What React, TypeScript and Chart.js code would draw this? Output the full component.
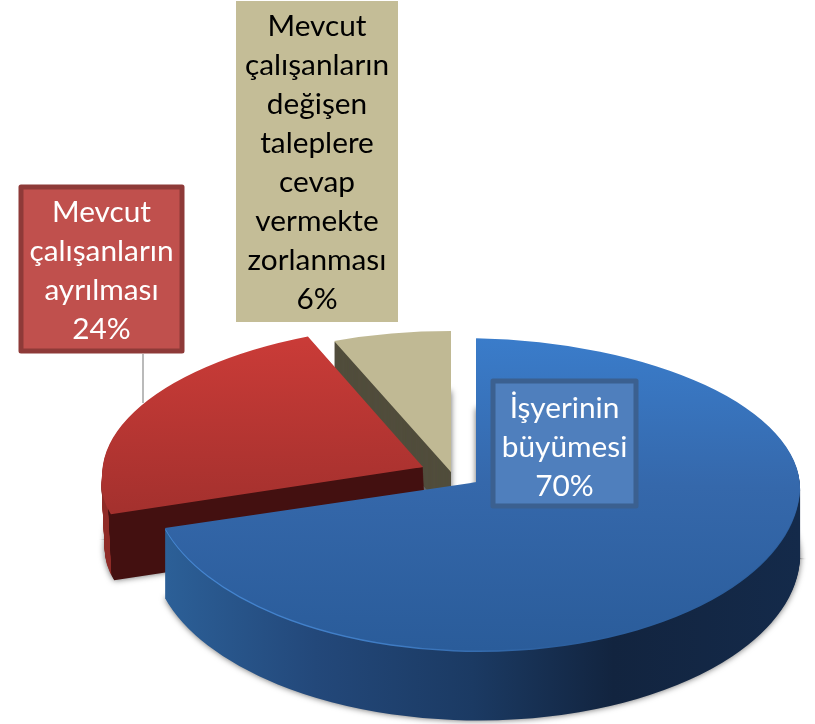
import React, { useEffect, useRef } from "react";
import { Chart, registerables } from "chart.js";

Chart.register(...registerables);

// --- data ---
const categories = ["İşyerinin büyümesi", "Mevcut çalışanların ayrılması", "Mevcut çalışanların değişen taleplere cevap vermekte zorlanması"];
const shares = [70, 24, 6];
const labelLines = [
  ["İşyerinin", "büyümesi"],
  ["Mevcut", "çalışanların", "ayrılması"],
  ["Mevcut", "çalışanların", "değişen", "taleplere", "cevap", "vermekte", "zorlanması"],
];

// --- styling of the tilted pie ---
const sliceColors = ["#3568ab", "#b5332f", "#c0b994"];
const explode = [31, 31, 0];
const lift = [0, -1, -2];
const squashUpper = [0.444, 0.441, 0.435];
const squashLower = [0.519, 0.41, 0.435];
const shear = [0.02, -0.02, 0];
const stretchX = [1, 0.99, 0.98];
const skewUpper = [0, -0.01, 0];
const skewLower = [-0.03, -0.07, 0];
const depth = [70, 66, 45];
const wallLean = [0, 0.05, 0];
const shadowDepth = [70, 66, 60];
const pieRadius = 324;
const baseSquash = 0.45;
const topStops = [
  ["#3a7cca", "#3568ab", "#2a5c9a"],
  ["#cc3c38", "#ad3330", "#8f2b28"],
  ["#c0b994", "#c0b994", "#c0b994"],
];
const labelBoxes = [
  { x: 493, y: 381, w: 143, h: 125, fill: "#4f7fbd", border: "#3b6090", border_w: 5, color: "#ffffff", first: 408 },
  { x: 21, y: 187, w: 161, h: 164, fill: "#c0504d", border: "#8e3a38", border_w: 5, color: "#ffffff", first: 212 },
  { x: 236, y: 1, w: 162, h: 321, fill: "#c4bd97", border: null, border_w: 0, color: "#000000", first: 26 },
];
const labelFont = "29.8px Lato";
const lineGap = 39;

const tiltedPie = {
  id: "tiltedPie",
  beforeDatasetsDraw(chart: any) {
    const ctx: CanvasRenderingContext2D = chart.ctx;
    const arcs = chart.getDatasetMeta(0).data;

    const place = (arc: any, i: number) => {
      const mid = (arc.startAngle + arc.endAngle) / 2;
      const ax = Math.cos(mid) * explode[i];
      const ay = Math.sin(mid) * explode[i];
      return { x: arc.x + ax, y: arc.y + ay * baseSquash + lift[i] };
    };

    const paint = (arc: any, i: number, fill: any, dy: number, shiftX = 0) => {
      const b = place(arc, i);
      const k = shear[i];
      const copy = Object.create(arc);
      copy.options = { ...arc.options, backgroundColor: fill, borderWidth: 0 };
      const W = chart.width;
      const lineY = (x: number) => b.y + dy + k * (x - b.x);
      [squashUpper[i], squashLower[i]].forEach((sq, half) => {
        ctx.save();
        ctx.beginPath();
        const e = half === 0 ? 0.6 : -0.6;
        const far = half === 0 ? -2000 : 3000;
        ctx.moveTo(0, lineY(0) + e);
        ctx.lineTo(W, lineY(W) + e);
        ctx.lineTo(W, far);
        ctx.lineTo(0, far);
        ctx.closePath();
        ctx.clip();
        ctx.translate(b.x + shiftX + dy * wallLean[i], b.y + dy);
        ctx.transform(stretchX[i], k, half === 0 ? skewUpper[i] : skewLower[i], sq, 0, 0);
        ctx.translate(-arc.x, -arc.y);
        copy.draw(ctx);
        ctx.restore();
      });
    };

    const wallFill = (i: number, tx: number) => {
      if (i === 0) {
        const g = ctx.createLinearGradient(165 - tx, 0, 800 - tx, 0);
        g.addColorStop(0, "#2c6098");
        g.addColorStop(0.25, "#23487a");
        g.addColorStop(0.5, "#1b3a63");
        g.addColorStop(0.72, "#12243f");
        g.addColorStop(1, "#142a4a");
        return g;
      }
      if (i === 1) {
        const g = ctx.createLinearGradient(103 - tx, 0, 423 - tx, 0);
        g.addColorStop(0, "#8f2b27");
        g.addColorStop(0.025, "#8f2b27");
        g.addColorStop(0.026, "#431010");
        g.addColorStop(1, "#431010");
        return g;
      }
      return "#514d3c";
    };

    [2, 1, 0].forEach((i) => {
      const arc = arcs[i];
      const b = place(arc, i);
      const tx = b.x - arc.x;
      // soft cast shadow: only the shadow of an off-canvas copy lands here
      ctx.save();
      ctx.shadowColor = "rgba(0,0,0,0.6)";
      ctx.shadowBlur = 6;
      ctx.shadowOffsetX = 3000;
      paint(arc, i, "#000", shadowDepth[i], -3000);
      ctx.restore();

      const wall = wallFill(i, tx);
      for (let d = depth[i]; d >= 1; d--) paint(arc, i, wall, d);
      if (i === 0) {
        // light rim along the front-left edge, fading out towards the middle
        const rim = ctx.createLinearGradient(165 - tx, 0, 560 - tx, 0);
        rim.addColorStop(0, "#4687d3");
        rim.addColorStop(0.6, "#3f7cc4");
        rim.addColorStop(1, "#2c5f9e");
        paint(arc, i, rim, 1.5);
      }

      const top = ctx.createLinearGradient(0, arc.y - pieRadius, 0, arc.y + pieRadius);
      top.addColorStop(0, topStops[i][0]);
      top.addColorStop(0.5, topStops[i][1]);
      top.addColorStop(1, topStops[i][2]);
      paint(arc, i, top, 0);
    });
    return false;
  },
  afterDraw(chart: any) {
    const ctx: CanvasRenderingContext2D = chart.ctx;
    ctx.save();
    // leader line of the red label
    ctx.strokeStyle = "#a3a3a3";
    ctx.lineWidth = 1.5;
    ctx.beginPath();
    ctx.moveTo(143, 354);
    ctx.lineTo(143, 403);
    ctx.stroke();

    labelBoxes.forEach((b, i) => {
      ctx.fillStyle = b.fill;
      ctx.fillRect(b.x, b.y, b.w, b.h);
      if (b.border) {
        ctx.strokeStyle = b.border;
        ctx.lineWidth = b.border_w;
        ctx.lineJoin = "round";
        ctx.strokeRect(b.x, b.y, b.w, b.h);
      }
      ctx.fillStyle = b.color;
      ctx.font = labelFont;
      ctx.textAlign = "center";
      ctx.textBaseline = "middle";
      const lines = [...labelLines[i], `${shares[i]}%`];
      lines.forEach((t, n) => ctx.fillText(t, b.x + b.w / 2, b.first + n * lineGap));
    });
    ctx.restore();
  },
};

export default function App() {
  const ref = useRef<HTMLCanvasElement>(null);
  useEffect(() => {
    if (!ref.current) return;
    const chart = new Chart(ref.current, {
      type: "pie",
      data: {
        labels: categories,
        datasets: [{ data: shares, backgroundColor: sliceColors, borderWidth: 0, radius: pieRadius } as any],
      },
      options: {
        responsive: false,
        animation: false,
        layout: { padding: { left: 87, top: 224, right: 0, bottom: 0 } },
        plugins: { legend: { display: false }, tooltip: { enabled: false } },
      },
      plugins: [tiltedPie as any],
    });
    return () => chart.destroy();
  }, []);
  return (
    <div style={{ position: "absolute", left: 0, top: 0, width: 815, height: 724, background: "#fff" }}>
      <canvas ref={ref} width={815} height={724} style={{ display: "block" }} />
    </div>
  );
}
